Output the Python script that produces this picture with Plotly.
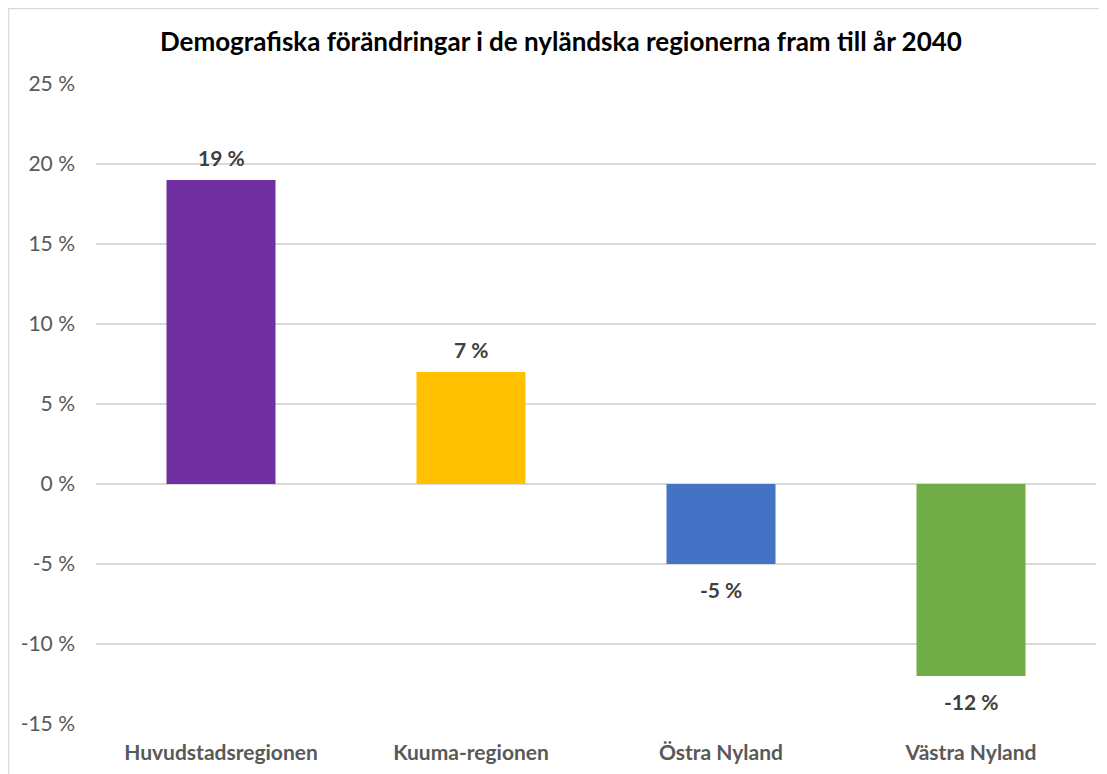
import plotly.graph_objects as go

categories = ["Huvudstadsregionen", "Kuuma-regionen", "Östra Nyland", "Västra Nyland"]
values = [19, 7, -5, -12]
labels = ["19 %", "7 %", "-5 %", "-12 %"]
colors = ["#7030A0", "#FFC000", "#4472C4", "#70AD47"]
tick_vals = [-15, -10, -5, 0, 5, 10, 15, 20, 25]
tick_text = ["-15 %", "-10 %", "-5 %", "0 %", "5 %", "10 %", "15 %", "20 %", "25 %"]

FONT = "Lato, Open Sans, sans-serif"

fig = go.Figure(go.Bar(
    x=categories, y=values, marker=dict(color=colors, line=dict(width=0)),
    hoverinfo="x+y",
))

annotations = []
for c, v, t in zip(categories, values, labels):
    annotations.append(dict(
        x=c, y=v, xref="x", yref="y", text=t, showarrow=False,
        yanchor="middle", yshift=23 if v >= 0 else -25,
        font=dict(family=FONT, size=21, color="#404040", weight="bold"),
    ))

fig.update_layout(
    width=1107, height=774,
    margin=dict(l=88, r=19, t=76, b=58),
    paper_bgcolor="white", plot_bgcolor="white",
    bargap=0.564,
    showlegend=False,
    title=dict(text="<b>Demografiska förändringar i de nyländska regionerna fram till år 2040</b>",
               x=0.4995, xanchor="center", y=0.956, yanchor="middle",
               font=dict(family=FONT, size=26, color="#000000")),
    font=dict(family=FONT),
    annotations=annotations,
    shapes=[dict(type="rect", xref="paper", yref="paper", x0=-0.0875, x1=1.2, y0=-0.3, y1=1.118,
                 line=dict(color="#D9D9D9", width=1.5), layer="below")],
)
fig.update_yaxes(range=[-15, 25], tickvals=tick_vals, ticktext=tick_text,
                 showgrid=True, gridcolor="#D9D9D9", gridwidth=1.5, zeroline=False,
                 showline=False, ticks="", ticklabelstandoff=20,
                 tickfont=dict(size=21, color="#595959"))
fig.update_xaxes(showline=False, showgrid=False, ticks="", ticklabelstandoff=14,
                 tickfont=dict(size=21, color="#595959", weight="bold"))

fig.write_html("out.html")
